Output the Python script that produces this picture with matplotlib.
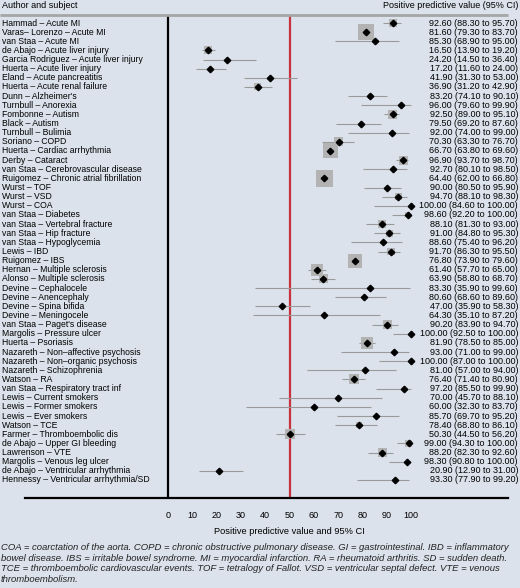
import matplotlib
matplotlib.use('Agg')
import matplotlib.pyplot as plt

plt.rcParams['font.family'] = ['Liberation Sans', 'DejaVu Sans']

# --- data ---
labels = [
    'Hammad – Acute MI', 'Varas– Lorenzo – Acute MI', 'van Staa – Acute MI',
    'de Abajo – Acute liver injury', 'Garcia Rodriguez – Acute liver injury',
    'Huerta – Acute liver injury', 'Eland – Acute pancreatitis',
    'Huerta – Acute renal failure', "Dunn – Alzheimer's", 'Turnbull – Anorexia',
    'Fombonne – Autism', 'Black – Autism', 'Turnbull – Bulimia', 'Soriano – COPD',
    'Huerta – Cardiac arrhythmia', 'Derby – Cataract',
    'van Staa – Cerebrovascular disease', 'Ruigomez – Chronic atrial fibrillation',
    'Wurst – TOF', 'Wurst – VSD', 'Wurst – COA', 'van Staa – Diabetes',
    'van Staa – Vertebral fracture', 'van Staa – Hip fracture',
    'van Staa – Hypoglycemia', 'Lewis – IBD', 'Ruigomez – IBS',
    'Hernan – Multiple sclerosis', 'Alonso – Multiple sclerosis',
    'Devine – Cephalocele', 'Devine – Anencephaly', 'Devine – Spina bifida',
    'Devine – Meningocele', "van Staa – Paget's disease",
    'Margolis – Pressure ulcer', 'Huerta – Psoriasis',
    'Nazareth – Non–affective psychosis', 'Nazareth – Non–organic psychosis',
    'Nazareth – Schizophrenia', 'Watson – RA', 'van Staa – Respiratory tract inf',
    'Lewis – Current smokers', 'Lewis – Former smokers', 'Lewis – Ever smokers',
    'Watson – TCE', 'Farmer – Thromboembolic dis', 'de Abajo – Upper GI bleeding',
    'Lawrenson – VTE', 'Margolis – Venous leg ulcer',
    'de Abajo – Ventricular arrhythmia', 'Hennessy – Ventricular arrhythmia/SD',
]
ppv = [92.6, 81.6, 85.3, 16.5, 24.2, 17.2, 41.9, 36.9, 83.2, 96.0,
       92.5, 79.5, 92.0, 70.3, 66.7, 96.9, 92.7, 64.4, 90.0, 94.7,
       100.0, 98.6, 88.1, 91.0, 88.6, 91.7, 76.8, 61.4, 63.9, 83.3,
       80.6, 47.0, 64.3, 90.2, 100.0, 81.9, 93.0, 100.0, 81.0, 76.4,
       97.2, 70.0, 60.0, 85.7, 78.4, 50.3, 99.0, 88.2, 98.3, 20.9, 93.3]
ci_low = [88.3, 79.3, 68.9, 13.9, 14.5, 11.6, 31.3, 31.2, 74.1, 79.6,
          89.0, 69.2, 74.0, 63.3, 63.8, 93.7, 80.1, 62.0, 80.5, 88.1,
          84.6, 92.2, 81.3, 84.8, 75.4, 86.3, 73.9, 57.7, 58.8, 35.9,
          68.6, 35.9, 35.1, 83.9, 92.5, 78.5, 71.0, 87.0, 57.0, 71.4,
          85.5, 45.7, 32.3, 69.7, 68.8, 44.5, 94.3, 82.3, 90.8, 12.9, 77.9]
ci_high = [95.7, 83.7, 95.0, 19.2, 36.4, 24.0, 53.0, 42.9, 90.1, 99.9,
           95.1, 87.6, 99.0, 76.7, 69.6, 98.7, 98.5, 66.8, 95.9, 98.3,
           100.0, 100.0, 93.0, 95.3, 96.2, 95.5, 79.6, 65.0, 68.7, 99.6,
           89.6, 58.3, 87.2, 94.7, 100.0, 85.0, 99.0, 100.0, 94.0, 80.9,
           99.9, 88.1, 83.7, 95.2, 86.1, 56.2, 100.0, 92.6, 100.0, 31.0, 99.2]
# study weight (side of grey box, pixels)
weights = [8, 16, 0, 8, 0, 0, 0, 7, 5, 0, 9, 0, 0, 9, 15, 9, 0, 17, 0, 7,
           0, 5, 8, 7, 0, 8, 14, 12, 9, 0, 0, 0, 0, 9, 0, 12, 0, 0, 0, 10,
           0, 0, 0, 0, 6, 10, 7, 9, 0, 0, 0]
xticks = list(range(0, 101, 10))

footnote = ("COA = coarctation of the aorta. COPD = chronic obstructive pulmonary disease. GI = gastrointestinal. IBD = inflammatory\n"
            "bowel disease. IBS = irritable bowel syndrome. MI = myocardial infarction. RA = rheumatoid arthritis. SD = sudden death.\n"
            "TCE = thromboembolic cardiovascular events. TOF = tetralogy of Fallot. VSD = ventricular septal defect. VTE = venous\n"
            "thromboembolism.")

# --- layout (pixel -> data) ---
bg = '#dbe2eb'
W, H = 520, 588
x0_px, px_per = 168, 2.43
y0_px, row_px = 23, 9.14


def xd(px):
    return (px - x0_px) / px_per


def yd(py):
    return (py - y0_px) / row_px


fig = plt.figure(figsize=(W / 100, H / 100), dpi=100, facecolor=bg)
ax = fig.add_axes([0, 0, 1, 1], facecolor=bg)
ax.set_xlim(xd(0), xd(W))
ax.set_ylim(yd(H), yd(0))

fs = 6.5
rows = list(range(len(labels)))

# CI lines
ax.hlines(rows, ci_low, ci_high, color='#9a9a9a', lw=0.8, zorder=2)
# weight boxes
sizes = [(w / 1.389) ** 2 for w in weights]
ax.scatter(ppv, rows, s=sizes, marker='s', color='#b3b3b3', linewidths=0, zorder=3)
# point estimates
ax.plot(ppv, rows, 'D', color='black', ms=3.3, zorder=4)

# reference lines
ax.vlines(0, yd(15), yd(498), color='black', lw=1.6, zorder=1)
ax.vlines(50, yd(15), yd(498), color='#c8323c', lw=1.6, zorder=1)
ax.hlines(yd(15), xd(0), xd(508), color='#a5a5a5', lw=2)

# text columns
for i, (lab, v, lo, hi) in enumerate(zip(labels, ppv, ci_low, ci_high)):
    ax.text(xd(2), i, lab, fontsize=6.25, va='center', ha='left')
    ax.text(xd(518), i, f'{v:.2f} ({lo:.2f} to {hi:.2f})', fontsize=fs,
            va='center', ha='right')

ax.text(xd(2), yd(5), 'Author and subject', fontsize=fs, va='center', ha='left')
ax.text(xd(518), yd(5), 'Positive predictive value (95% CI)', fontsize=fs,
        va='center', ha='right')

# x axis
for s in ['top', 'left', 'right']:
    ax.spines[s].set_visible(False)
ax.spines['bottom'].set_position(('data', yd(498)))
ax.spines['bottom'].set_bounds(xd(25), xd(508))
ax.spines['bottom'].set_linewidth(1.6)
ax.set_xticks(xticks)
ax.tick_params(axis='x', length=0, pad=9, labelsize=fs)
ax.set_yticks([])

ax.text(50, yd(531), 'Positive predictive value and 95% CI', fontsize=6.7,
        ha='center', va='center')
ax.text(xd(1), yd(543), footnote, fontsize=6.8, style='italic', color='#222222',
        ha='left', va='top', linespacing=1.24)

fig.savefig('out.png', dpi=100, facecolor=bg)
